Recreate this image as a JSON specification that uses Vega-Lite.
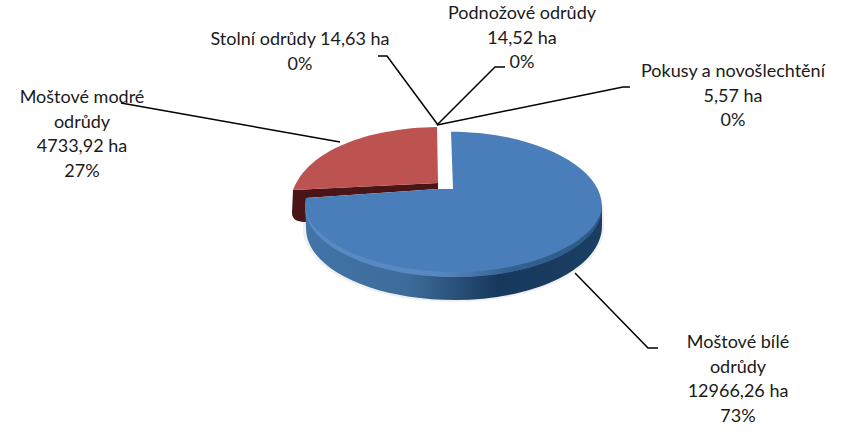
{"$schema":"https://vega.github.io/schema/vega-lite/v6.json","width":841,"height":437,"padding":0,"autosize":{"type":"fit","contains":"padding"},"background":"white","view":{"stroke":null},
"datasets":{
"slices":[{"category":"Moštové bílé odrůdy","ha":12966.26,"pct":73},{"category":"Moštové modré odrůdy","ha":4733.92,"pct":27},{"category":"Stolní odrůdy","ha":14.63,"pct":0},{"category":"Podnožové odrůdy","ha":14.52,"pct":0},{"category":"Pokusy a novošlechtění","ha":5.57,"pct":0}],
"labels":[{"category":"Moštové bílé odrůdy","text":"Moštové bílé\nodrůdy\n12966,26 ha\n73%","cx":738,"cy":334},{"category":"Moštové modré odrůdy","text":"Moštové modré\nodrůdy\n4733,92 ha\n27%","cx":82,"cy":89},{"category":"Stolní odrůdy","text":"Stolní odrůdy 14,63 ha\n0%","cx":300,"cy":31},{"category":"Podnožové odrůdy","text":"Podnožové odrůdy\n14,52 ha\n0%","cx":522,"cy":5},{"category":"Pokusy a novošlechtění","text":"Pokusy a novošlechtění\n5,57 ha\n0%","cx":733,"cy":63}],
"leaders":[{"category":"Stolní odrůdy","o":1,"lx":378,"ly":56},{"category":"Stolní odrůdy","o":2,"lx":387,"ly":56},{"category":"Stolní odrůdy","o":3,"lx":438,"ly":125},{"category":"Podnožové odrůdy","o":1,"lx":505,"ly":67},{"category":"Podnožové odrůdy","o":2,"lx":495,"ly":67},{"category":"Podnožové odrůdy","o":3,"lx":437,"ly":125},{"category":"Pokusy a novošlechtění","o":1,"lx":630,"ly":87},{"category":"Pokusy a novošlechtění","o":2,"lx":623,"ly":87},{"category":"Pokusy a novošlechtění","o":3,"lx":437,"ly":125},{"category":"Moštové modré odrůdy","o":1,"lx":121,"ly":103},{"category":"Moštové modré odrůdy","o":2,"lx":340,"ly":142},{"category":"Moštové bílé odrůdy","o":1,"lx":575,"ly":273},{"category":"Moštové bílé odrůdy","o":2,"lx":648,"ly":348},{"category":"Moštové bílé odrůdy","o":3,"lx":658,"ly":348}]},
"layer":[
{"data":{"name":"slices"},"transform":[{"filter":"datum.pct===73"}],"mark":{"type":"point","filled":true,"opacity":1,"size":40000,"fill":"#f0f0f0","stroke":null,"shape":"M-1.50,0 L-1.50,.24 C-1.50,.66 -.81,.97 .02,.97 C .85,.97 1.51,.64 1.51,.22 L1.51,0 Z"},"encoding":{"x":{"datum":453,"type":"quantitative","scale":{"domain":[0,841],"nice":false,"zero":false},"axis":null},"y":{"datum":205,"type":"quantitative","scale":{"domain":[0,437],"nice":false,"zero":false,"reverse":true},"axis":null}}},
{"data":{"name":"slices"},"transform":[{"filter":"datum.pct===27"}],"mark":{"type":"point","filled":true,"opacity":1,"size":40000,"fill":"#4a1517","stroke":null,"shape":"M-.15,-.22 L-1.60,-.15 L-1.61,.08 C-1.61,.15 -1.55,.17 -1.47,.17 L-1.47,-.07 L-.15,-.16 Z"},"encoding":{"x":{"datum":453,"type":"quantitative"},"y":{"datum":205,"type":"quantitative"}}},
{"data":{"name":"slices"},"transform":[{"filter":"datum.pct===27"}],"mark":{"type":"point","filled":true,"opacity":1,"size":40000,"fill":"#bc5351","stroke":null,"shape":"M-.15,-.22 L-.16,-.78 C-.85,-.77 -1.45,-.55 -1.60,-.15 Z"},"encoding":{"x":{"datum":453,"type":"quantitative"},"y":{"datum":205,"type":"quantitative"}}},
{"data":{"name":"slices"},"transform":[{"filter":"datum.pct===73"}],"mark":{"type":"point","filled":true,"opacity":1,"size":40000,"stroke":null,"fill":{"gradient":"linear","x1":0,"y1":0,"x2":1,"y2":0,"stops":[{"offset":0,"color":"#4274a8"},{"offset":0.35,"color":"#3d6c9a"},{"offset":0.65,"color":"#17385c"},{"offset":1,"color":"#1a3f63"}]},"shape":"M-1.48,.01 L-1.47,.23 C-1.47,.64 -.80,.95 .02,.95 C .84,.95 1.49,.62 1.49,.21 L1.49,.01 Z"},"encoding":{"x":{"datum":453,"type":"quantitative"},"y":{"datum":205,"type":"quantitative"}}},
{"data":{"name":"slices"},"transform":[{"filter":"datum.pct===73"}],"mark":{"type":"point","filled":true,"opacity":1,"size":40000,"stroke":null,"fill":"#4a7ebb","shape":"M0,-.16 L-.02,-.733 C.80,-.733 1.49,-.39 1.49,.01 C1.49,.41 .84,.72 .02,.72 C-.80,.72 -1.48,.41 -1.48,.01 C-1.48,-.03 -1.475,-.06 -1.47,-.07 L-.15,-.16 Z"},"encoding":{"x":{"datum":453,"type":"quantitative"},"y":{"datum":205,"type":"quantitative"}}},
{"data":{"name":"slices"},"transform":[{"filter":"datum.pct===73"}],"mark":{"type":"point","filled":true,"opacity":0.75,"size":40000,"stroke":null,"fill":{"gradient":"linear","x1":0,"y1":0,"x2":1,"y2":0,"stops":[{"offset":0,"color":"#5f90c6"},{"offset":0.45,"color":"#5b8cc2"},{"offset":0.7,"color":"#2b5680"},{"offset":1,"color":"#234d76"}]},"shape":"M-1.48,.01 C-1.48,.41 -.80,.72 .02,.72 C .84,.72 1.49,.41 1.49,.01 C1.47,.35 .82,.67 .02,.67 C-.78,.67 -1.45,.37 -1.48,.01 Z"},"encoding":{"x":{"datum":453,"type":"quantitative"},"y":{"datum":205,"type":"quantitative"}}},
{"data":{"name":"leaders"},"mark":{"type":"line","color":"black","strokeWidth":1.5,"interpolate":"linear"},"encoding":{"x":{"field":"lx","type":"quantitative"},"y":{"field":"ly","type":"quantitative"},"detail":{"field":"category"},"order":{"field":"o"}}},
{"data":{"name":"labels"},"mark":{"type":"text","font":"Lato","fontSize":18,"lineBreak":"\n","lineHeight":24.5,"align":"center","baseline":"top","color":"#1a1a1a"},"encoding":{"x":{"field":"cx","type":"quantitative"},"y":{"field":"cy","type":"quantitative"},"text":{"field":"text"}}}
]}
